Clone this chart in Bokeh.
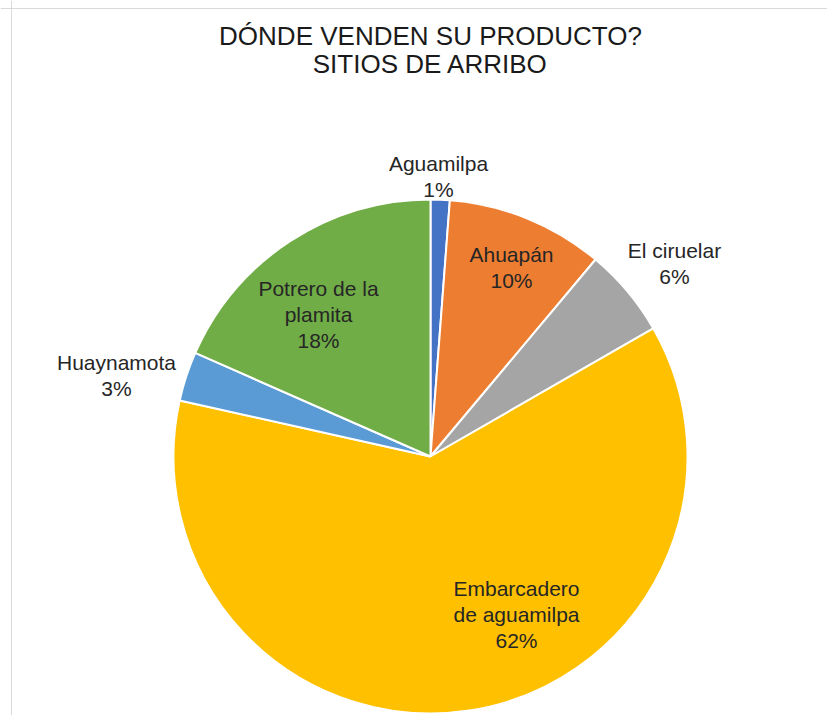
import math
from bokeh.plotting import figure
from bokeh.models import Range1d, Span, ColumnDataSource
from bokeh.core.properties import value
from bokeh.embed import file_html
from bokeh.resources import INLINE

# ---- data ----
categories = ["Aguamilpa", "Ahuapán", "El ciruelar", "Embarcadero de aguamilpa",
              "Huaynamota", "Potrero de la plamita"]
label_text = ["Aguamilpa", "Ahuapán", "El ciruelar", "Embarcadero\nde aguamilpa",
              "Huaynamota", "Potrero de la\nplamita"]
shares = [1.2, 9.9, 5.6, 61.8, 3.1, 18.4]
colors = ["#4472C4", "#ED7D31", "#A5A5A5", "#FFC000", "#5B9BD5", "#70AD47"]
title_lines = ["DÓNDE VENDEN SU PRODUCTO?", "SITIOS DE ARRIBO"]

# ---- layout (pixel-like data coordinates) ----
W, H = 827, 715
cx, cy, R = 430, 259, 257
label_pos = [(438, 539), (511, 448), (674, 452), (516, 101), (116, 340), (318, 401)]

total = sum(shares)
starts, ends = [], []
cum = 0.0
for s in shares:
    starts.append(math.pi / 2 - 2 * math.pi * cum / total)
    cum += s
    ends.append(math.pi / 2 - 2 * math.pi * cum / total)

src = ColumnDataSource(dict(cat=categories, start=starts, end=ends, color=colors))

p = figure(width=W, height=H, x_range=Range1d(0, W), y_range=Range1d(0, H),
           output_backend="svg", toolbar_location=None, min_border=0)
p.axis.visible = False
p.grid.visible = False
p.outline_line_color = None
p.background_fill_color = "white"
p.border_fill_color = "white"

p.wedge(x=cx, y=cy, radius=R, start_angle="start", end_angle="end",
        direction="clock", fill_color="color", line_color="white",
        line_width=2, source=src)

texts = [f"{t}\n{round(100 * s / total)}%" for t, s in zip(label_text, shares)]
p.text(x=[q[0] for q in label_pos], y=[q[1] for q in label_pos], text=texts,
       text_font=value("Liberation Sans"), text_font_size="21px",
       text_color="#262626", text_align="center", text_baseline="middle",
       text_line_height=1.15)

p.text(x=[430, 430], y=[680, 652], text=title_lines,
       text_font=value("Liberation Sans"), text_font_size="26px",
       text_color="#1a1a1a", text_align="center", text_baseline="middle")

p.add_layout(Span(location=11, dimension="height", line_color="#d9d9d9", line_width=1))
p.add_layout(Span(location=707, dimension="width", line_color="#d9d9d9", line_width=1))

open("out.html", "w").write(file_html(p, INLINE))
